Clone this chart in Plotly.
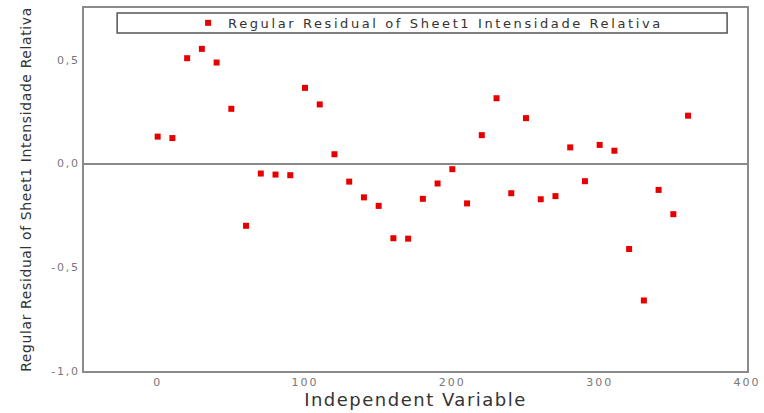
import plotly.graph_objects as go

# Data
x_values = [0, 10, 20, 30, 40, 50, 60, 70, 80, 90, 100, 110, 120, 130, 140, 150,
            160, 170, 180, 190, 200, 210, 220, 230, 240, 250, 260, 270, 280, 290,
            300, 310, 320, 330, 340, 350, 360]
residuals = [0.13, 0.123, 0.508, 0.553, 0.487, 0.264, -0.30, -0.048, -0.053, -0.056,
             0.365, 0.285, 0.045, -0.087, -0.163, -0.204, -0.36, -0.362, -0.17, -0.096,
             -0.027, -0.192, 0.137, 0.315, -0.143, 0.219, -0.172, -0.157, 0.078, -0.085,
             0.09, 0.062, -0.412, -0.66, -0.127, -0.244, 0.231]
series_name = "Regular Residual of Sheet1 Intensidade Relativa"
x_title = "Independent Variable"
y_title = "Regular Residual of Sheet1 Intensidade Relativa"
x_tickvals = [0, 100, 200, 300, 400]
x_ticktext = ["0", "100", "200", "300", "400"]
y_tickvals = [-1.0, -0.5, 0.0, 0.5]
y_ticktext = ["-1,0", "-0,5", "0,0", "0,5"]

FONT = "DejaVu Sans"


def spaced(text, px):
    return f'<span style="letter-spacing:{px}px">{text}</span>'


fig = go.Figure()
fig.add_trace(go.Scatter(
    x=x_values, y=residuals, mode="markers", name=spaced(series_name, 2.6),
    marker=dict(symbol="square", size=6, color="#e60000", line=dict(width=0)),
    showlegend=True,
))

fig.update_layout(
    width=764, height=413,
    margin=dict(l=84, r=17, t=8, b=42),
    paper_bgcolor="white", plot_bgcolor="white",
    showlegend=True,
    legend=dict(
        x=0.157, y=0.959, xanchor="left", yanchor="middle",
        bgcolor="rgba(0,0,0,0)", borderwidth=0,
        font=dict(family=FONT, size=13, color="#333333"),
    ),
    shapes=[dict(
        type="rect", xref="paper", yref="paper",
        x0=0.05, x1=0.97, y0=0.931, y1=0.986,
        line=dict(color="#555555", width=1.5), fillcolor="rgba(0,0,0,0)",
        layer="below",
    )],
)

fig.update_xaxes(
    range=[-50, 400], tickvals=x_tickvals,
    ticktext=[spaced(t, 2) for t in x_ticktext],
    showgrid=False, zeroline=False, automargin=False,
    showline=True, linecolor="#8a8a8a", linewidth=2, mirror=True,
    ticks="", ticklabelstandoff=0,
    tickfont=dict(family=FONT, size=11, color="#777777"),
    title=dict(text=spaced(x_title, 1.5),
               font=dict(family=FONT, size=18, color="#333333"), standoff=4),
)
fig.update_yaxes(
    range=[-1.0, 0.75], tickvals=y_tickvals,
    ticktext=[spaced(t, 1.8) for t in y_ticktext],
    showgrid=False, automargin=False,
    zeroline=True, zerolinecolor="#8a8a8a", zerolinewidth=1.5,
    showline=True, linecolor="#8a8a8a", linewidth=2, mirror=True,
    ticks="", ticklabelstandoff=0,
    tickfont=dict(family=FONT, size=11, color="#777777"),
    title=dict(text=spaced(y_title, 0.6),
               font=dict(family=FONT, size=14, color="#333333"), standoff=16),
)

fig.write_html("out.html")
